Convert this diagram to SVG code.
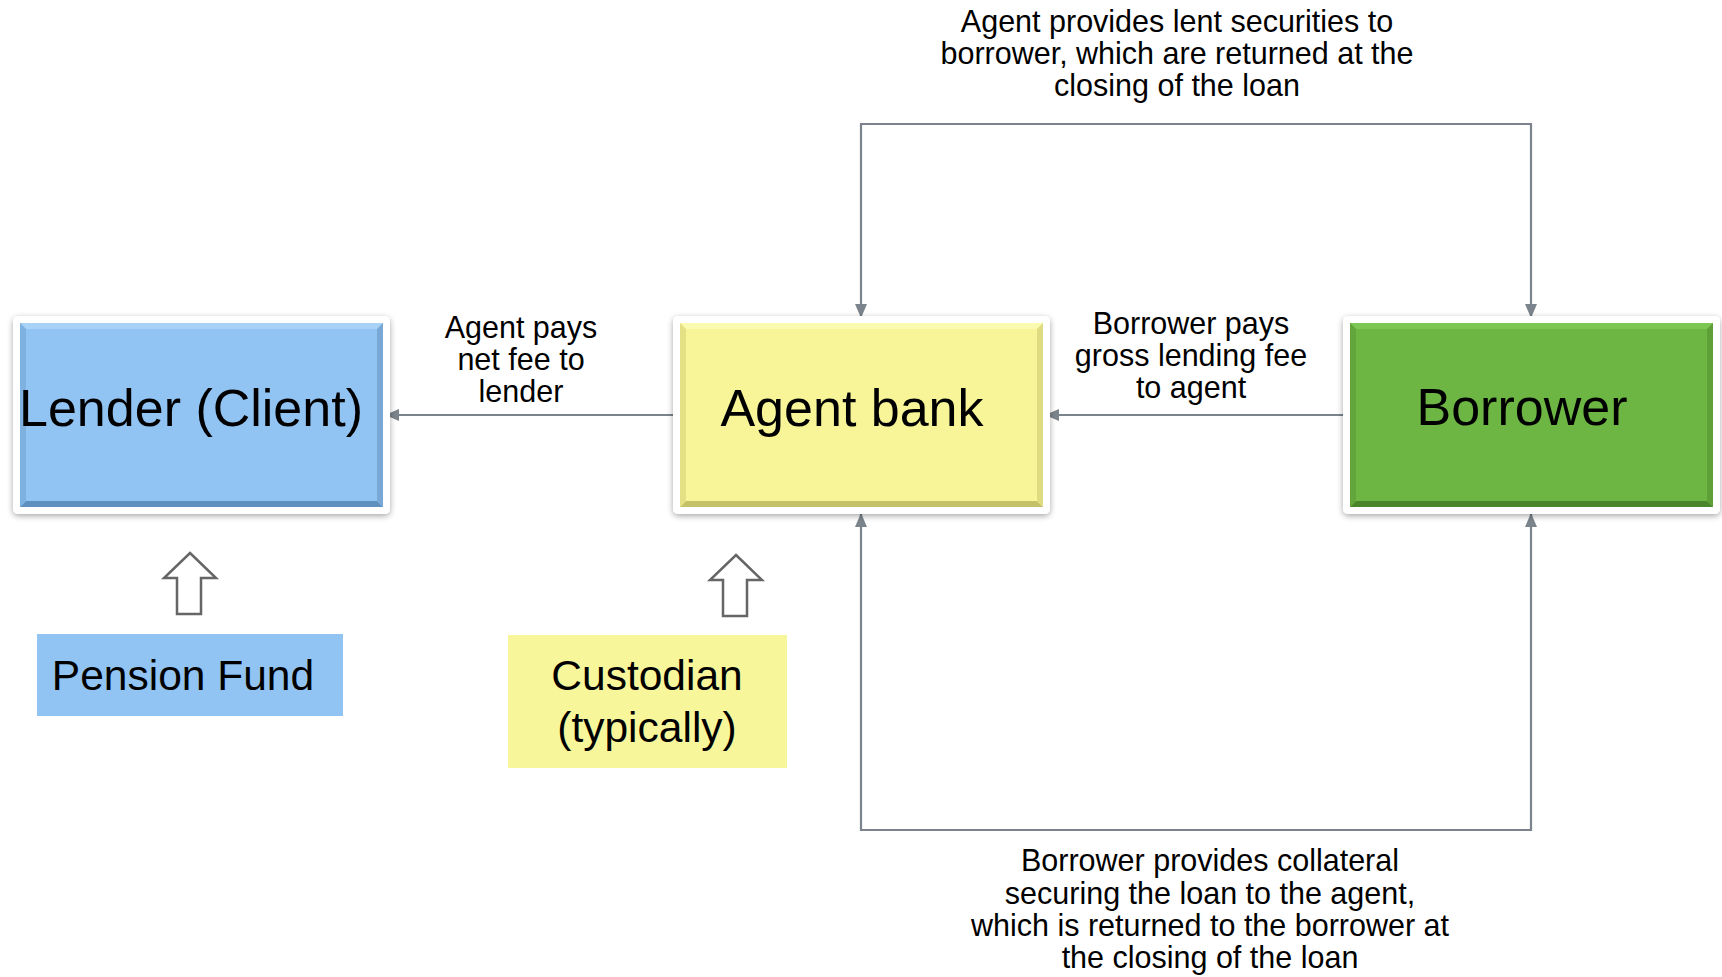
<svg xmlns="http://www.w3.org/2000/svg" width="1722" height="977" viewBox="0 0 1722 977">
<style>
text{font-family:"Liberation Sans",Arial,sans-serif;fill:#000}
.big{font-size:52px;text-anchor:middle}
.lbl{font-size:30.5px;text-anchor:middle}
.sub{font-size:42.5px;text-anchor:middle}
.con{fill:none;stroke:#7b848c;stroke-width:2.2}
.frame{fill:#fff;filter:url(#sh)}
.barrow{fill:#fff;stroke:#666;stroke-width:2.5;stroke-linejoin:miter}
</style>
<defs>
<filter id="sh" x="-10%" y="-10%" width="120%" height="125%">
<feGaussianBlur in="SourceAlpha" stdDeviation="3"/>
<feOffset dx="0" dy="2" result="b"/>
<feComponentTransfer><feFuncA type="linear" slope="0.35"/></feComponentTransfer>
<feMerge><feMergeNode/><feMergeNode in="SourceGraphic"/></feMerge>
</filter>
<marker id="ah" viewBox="0 0 14 12" refX="13" refY="6" markerWidth="14" markerHeight="12" markerUnits="userSpaceOnUse" orient="auto-start-reverse">
<path d="M0,0 L14,6 L0,12 z" fill="#7b848c"/>
</marker>
</defs>
<rect width="1722" height="977" fill="#fff"/>

<g id="connectors">
<path class="con" d="M676,415 H386" marker-end="url(#ah)"/>
<path class="con" d="M1346,415 H1046" marker-end="url(#ah)"/>
<path class="con" d="M861,317 V124 H1531 V317" marker-start="url(#ah)" marker-end="url(#ah)"/>
<path class="con" d="M861,514 V830 H1531 V514" marker-start="url(#ah)" marker-end="url(#ah)"/>
</g>

<g id="lender" transform="translate(20,323)">
<rect class="frame" x="-7" y="-7" width="377" height="198" rx="5"/>
<rect width="363" height="184" fill="#92c4f3"/>
<polygon points="0,0 363,0 357,6 6,6" fill="#a9d2f7"/>
<polygon points="0,184 363,184 357,178 6,178" fill="#5f8fbf"/>
<polygon points="0,0 6,6 6,178 0,184" fill="#7eb0e0"/>
<polygon points="363,0 357,6 357,178 363,184" fill="#7aa8d6"/>
<text class="big" x="171" y="103">Lender (Client)</text>
</g>

<g id="agent" transform="translate(680,323)">
<rect class="frame" x="-7" y="-7" width="377" height="198" rx="5"/>
<rect width="363" height="184" fill="#f7f597"/>
<polygon points="0,0 363,0 357,6 6,6" fill="#fafab0"/>
<polygon points="0,184 363,184 357,178 6,178" fill="#c4c168"/>
<polygon points="0,0 6,6 6,178 0,184" fill="#e3e184"/>
<polygon points="363,0 357,6 357,178 363,184" fill="#dedb80"/>
<text class="big" x="172" y="103">Agent bank</text>
</g>

<g id="borrower" transform="translate(1350,323)">
<rect class="frame" x="-7" y="-7" width="377" height="198" rx="5"/>
<rect width="363" height="184" fill="#6db643"/>
<polygon points="0,0 363,0 357,6 6,6" fill="#7cc753"/>
<polygon points="0,184 363,184 357,178 6,178" fill="#4b852b"/>
<polygon points="0,0 6,6 6,178 0,184" fill="#62a63b"/>
<polygon points="363,0 357,6 357,178 363,184" fill="#5e9f38"/>
<text class="big" x="172" y="102">Borrower</text>
</g>

<g id="label-net-fee">
<text class="lbl" x="521" y="338">Agent pays</text>
<text class="lbl" x="521" y="370">net fee to</text>
<text class="lbl" x="521" y="402">lender</text>
</g>

<g id="label-gross-fee">
<text class="lbl" x="1191" y="334">Borrower pays</text>
<text class="lbl" x="1191" y="366">gross lending fee</text>
<text class="lbl" x="1191" y="398">to agent</text>
</g>

<g id="label-securities">
<text class="lbl" x="1177" y="32">Agent provides lent securities to</text>
<text class="lbl" x="1177" y="64">borrower, which are returned at the</text>
<text class="lbl" x="1177" y="96">closing of the loan</text>
</g>

<g id="label-collateral">
<text class="lbl" x="1210" y="871">Borrower provides collateral</text>
<text class="lbl" x="1210" y="904">securing the loan to the agent,</text>
<text class="lbl" x="1210" y="936">which is returned to the borrower at</text>
<text class="lbl" x="1210" y="968">the closing of the loan</text>
</g>

<g id="arrow-pension">
<polygon class="barrow" points="190,553 216,578 201,578 201,614 177,614 177,578 164,578"/>
</g>
<g id="arrow-custodian">
<polygon class="barrow" points="736,555 762,580 747,580 747,616 723,616 723,580 710,580"/>
</g>

<g id="pension-fund">
<rect x="37" y="634" width="306" height="82" fill="#92c4f3"/>
<text class="sub" x="183" y="690">Pension Fund</text>
</g>

<g id="custodian">
<rect x="508" y="635" width="279" height="133" fill="#f7f69b"/>
<text class="sub" x="647" y="690">Custodian</text>
<text class="sub" x="647" y="742">(typically)</text>
</g>
</svg>
